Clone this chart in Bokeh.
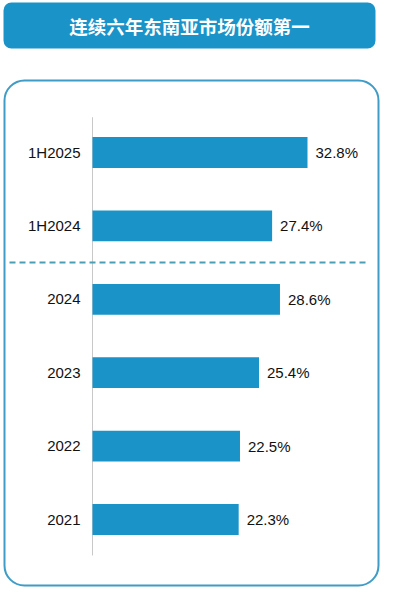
from bokeh.plotting import figure
from bokeh.models import Range1d, BoxAnnotation, ColumnDataSource
from bokeh.core.properties import value
from bokeh.embed import file_html
from bokeh.resources import INLINE

# ---- data ----
title_text = "连续六年东南亚市场份额第一"
categories = ["1H2025", "1H2024", "2024", "2023", "2022", "2021"]
shares = [32.8, 27.4, 28.6, 25.4, 22.5, 22.3]
value_labels = ["32.8%", "27.4%", "28.6%", "25.4%", "22.5%", "22.3%"]

# ---- layout (pixel geometry of the figure) ----
W, H = 393, 593
X0_PX = 92.0          # pixel x of value 0
PX_PER_UNIT = 6.555   # pixels per percentage point
Y0_PX = 152.0         # pixel y of first bar centre
ROW_PX = 73.4         # pixels between bar centres

def xd(px):
    return (px - X0_PX) / PX_PER_UNIT

def yd(py):
    return (py - Y0_PX) / ROW_PX

BLUE = "#1a93c9"
BORDER = "#3f9cc6"
DASH = "#4a9fb6"
FONT = "Liberation Sans"

p = figure(width=W, height=H, output_backend="svg", toolbar_location=None,
           x_range=Range1d(xd(0), xd(W)), y_range=Range1d(yd(H), yd(0)),
           min_border=0, min_border_left=0, min_border_right=0,
           min_border_top=0, min_border_bottom=0)
p.axis.visible = False
p.grid.visible = False
p.outline_line_color = None
p.background_fill_color = "white"
p.border_fill_color = "white"

# title banner
p.add_layout(BoxAnnotation(left=xd(3), right=xd(375), top=yd(2), bottom=yd(48),
                           fill_color=BLUE, fill_alpha=1.0, line_color=None,
                           border_radius=8, level="underlay"))
p.text(x=[xd(189)], y=[yd(25)], text=[title_text], text_color="white",
       text_font=value("Noto Sans CJK SC"), text_font_style="bold",
       text_font_size="18.5px", text_align="center", text_baseline="middle")

# card
p.add_layout(BoxAnnotation(left=xd(4), right=xd(378), top=yd(80), bottom=yd(585),
                           fill_color="white", fill_alpha=1.0, line_color=BORDER,
                           line_alpha=1.0, line_width=2, border_radius=20,
                           level="underlay"))

idx = list(range(len(categories)))
src = ColumnDataSource(dict(y=idx, v=shares, cat=categories, lab=value_labels,
                            zero=[0] * len(idx)))

# axis line
p.segment(x0=[0], y0=[-0.48], x1=[0], y1=[len(idx) - 0.51], line_color="#c8c8c8",
          line_width=1)

# separator between half-year and full-year rows
p.segment(x0=[xd(9)], y0=[1.5], x1=[xd(367)], y1=[1.5], line_color=DASH,
          line_width=2, line_dash="6 4")

p.hbar(y="y", left="zero", right="v", height=0.42, source=src,
       fill_color=BLUE, line_color=None)

p.text(x="zero", y="y", text="cat", source=src, x_offset=-12,
       text_align="right", text_baseline="middle", text_font=value(FONT),
       text_font_size="15px", text_color="#111111")
p.text(x="v", y="y", text="lab", source=src, x_offset=8,
       text_align="left", text_baseline="middle", text_font=value(FONT),
       text_font_size="15px", text_color="#111111")

open("out.html", "w").write(file_html(p, INLINE))
